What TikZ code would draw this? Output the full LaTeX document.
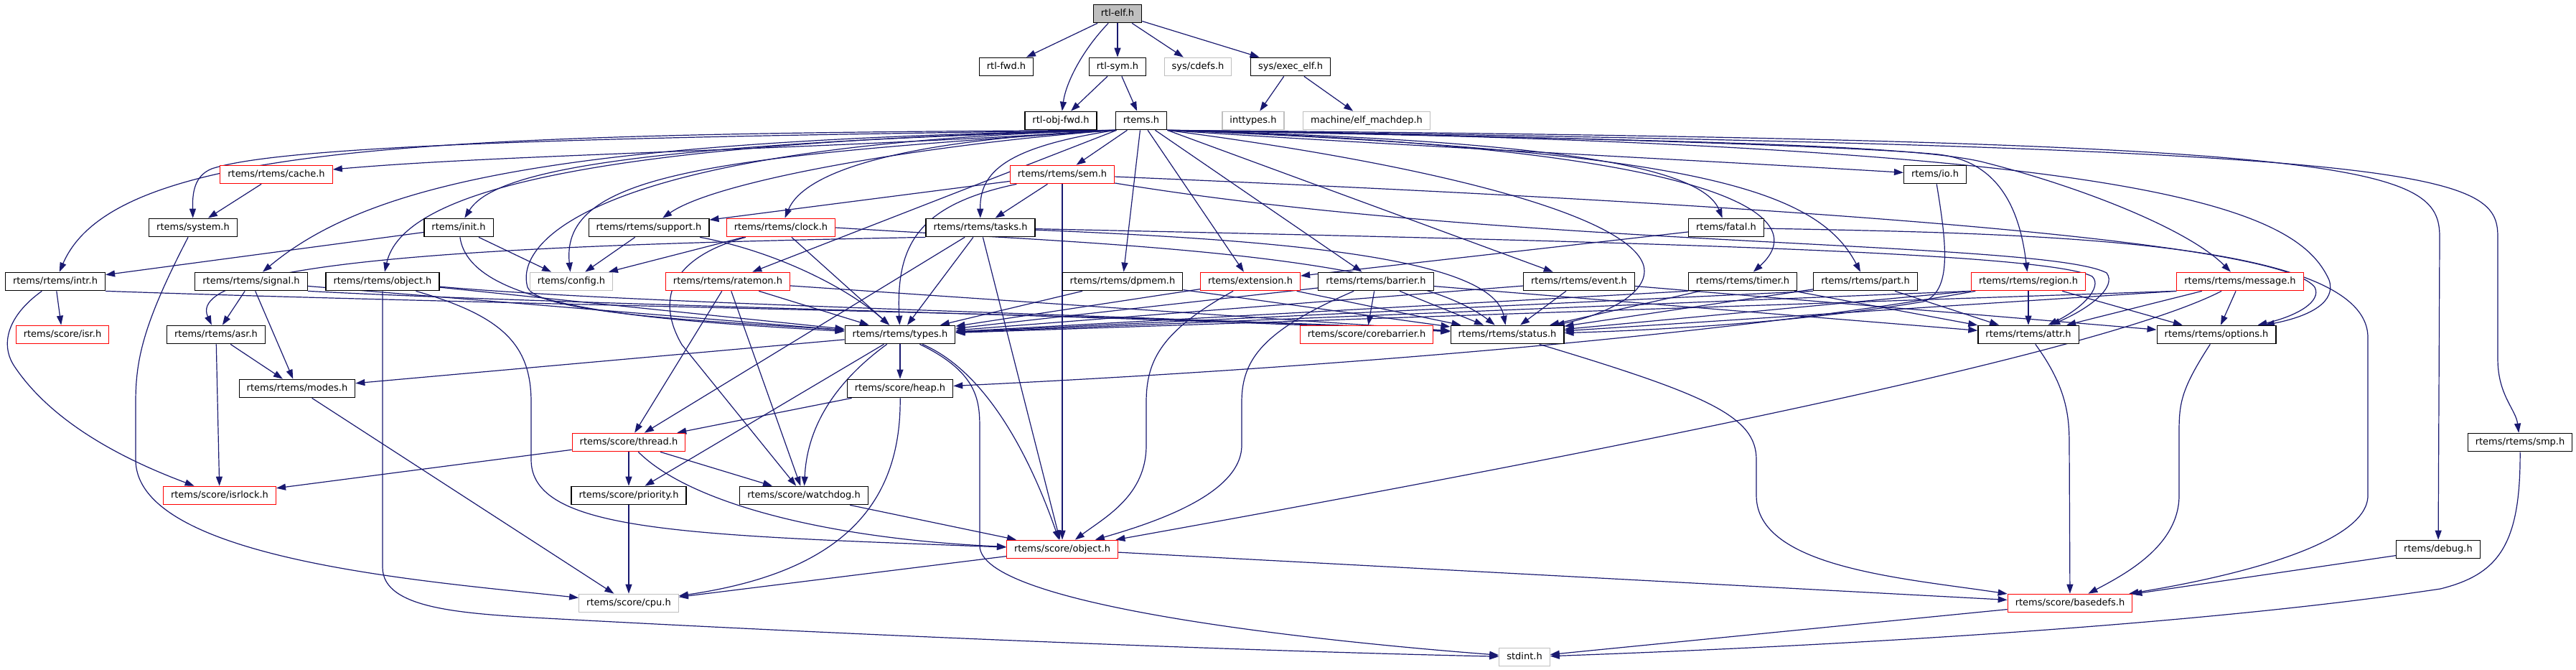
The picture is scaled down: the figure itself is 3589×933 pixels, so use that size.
\documentclass[tikz,border=0pt]{standalone}
\usepackage{fontspec}
\setmainfont{DejaVu Sans}
\usetikzlibrary{arrows.meta,backgrounds}
\definecolor{edgeblue}{HTML}{191970}
\definecolor{truncred}{HTML}{FF0000}
\definecolor{extgray}{HTML}{BFBFBF}
\tikzset{
  hdr/.style={draw=black,fill=white,line width=1.2pt,inner xsep=10.5pt,inner ysep=0pt,
    minimum height=25.5pt,text height=9.5pt,text depth=2.5pt,font=\fontsize{13}{15}\selectfont},
  trunc/.style={hdr,draw=truncred},
  ext/.style={hdr,draw=extgray},
  rootfile/.style={hdr,fill=extgray},
  dep/.style={draw=edgeblue,line width=1.2pt,-{Triangle[length=13pt,width=9pt]}},
}
\begin{document}
\begin{tikzpicture}[x=1pt,y=-1pt]
\useasboundingbox (0,0) rectangle (3589,933);
% files
\node[rootfile] (elf) at (1557,19) {rtl-elf.h};
\node[hdr] (fwd) at (1402,93) {rtl-fwd.h};
\node[hdr] (sym) at (1557,93) {rtl-sym.h};
\node[ext] (cdefs) at (1669,93) {sys/cdefs.h};
\node[hdr] (execelf) at (1798,93) {sys/exec\_elf.h};
\node[hdr] (objfwd) at (1478,168) {rtl-obj-fwd.h};
\node[hdr] (rtemsh) at (1590,168) {rtems.h};
\node[ext] (inttypes) at (1746,168) {inttypes.h};
\node[ext] (machdep) at (1904,168) {machine/elf\_machdep.h};
\node[trunc] (cache) at (385,243) {rtems/rtems/cache.h};
\node[trunc] (sem) at (1480,243) {rtems/rtems/sem.h};
\node[hdr] (io) at (2696,243) {rtems/io.h};
\node[hdr] (system) at (269,317) {rtems/system.h};
\node[hdr] (init) at (639,317) {rtems/init.h};
\node[hdr] (support) at (904,317) {rtems/rtems/support.h};
\node[trunc] (clock) at (1088,317) {rtems/rtems/clock.h};
\node[hdr] (tasks) at (1366,317) {rtems/rtems/tasks.h};
\node[hdr] (fatal) at (2405,317) {rtems/fatal.h};
\node[hdr] (intr) at (77,392) {rtems/rtems/intr.h};
\node[hdr] (signal) at (350,392) {rtems/rtems/signal.h};
\node[hdr] (robject) at (533,392) {rtems/rtems/object.h};
\node[ext] (config) at (796,392) {rtems/config.h};
\node[trunc] (ratemon) at (1014,392) {rtems/rtems/ratemon.h};
\node[hdr] (dpmem) at (1564,392) {rtems/rtems/dpmem.h};
\node[trunc] (extension) at (1742,392) {rtems/extension.h};
\node[hdr] (barrier) at (1917,392) {rtems/rtems/barrier.h};
\node[hdr] (event) at (2200,392) {rtems/rtems/event.h};
\node[hdr] (timer) at (2428,392) {rtems/rtems/timer.h};
\node[hdr] (part) at (2599,392) {rtems/rtems/part.h};
\node[trunc] (region) at (2826,392) {rtems/rtems/region.h};
\node[trunc] (message) at (3121,392) {rtems/rtems/message.h};
\node[trunc] (isr) at (87,466) {rtems/score/isr.h};
\node[hdr] (asr) at (301,466) {rtems/rtems/asr.h};
\node[hdr] (types) at (1254,466) {rtems/rtems/types.h};
\node[trunc] (corebarrier) at (1904,466) {rtems/score/corebarrier.h};
\node[hdr] (status) at (2100,466) {rtems/rtems/status.h};
\node[hdr] (attr) at (2826,466) {rtems/rtems/attr.h};
\node[hdr] (options) at (3088,466) {rtems/rtems/options.h};
\node[hdr] (modes) at (414,541) {rtems/rtems/modes.h};
\node[hdr] (heap) at (1254,541) {rtems/score/heap.h};
\node[trunc] (thread) at (876,616) {rtems/score/thread.h};
\node[hdr] (smp) at (3511,616) {rtems/rtems/smp.h};
\node[trunc] (isrlock) at (306,690) {rtems/score/isrlock.h};
\node[hdr] (priority) at (876,690) {rtems/score/priority.h};
\node[hdr] (watchdog) at (1120,690) {rtems/score/watchdog.h};
\node[trunc] (sobject) at (1480,765) {rtems/score/object.h};
\node[hdr] (debug) at (3397,765) {rtems/debug.h};
\node[ext] (cpu) at (876,840) {rtems/score/cpu.h};
\node[trunc] (basedefs) at (2884,840) {rtems/score/basedefs.h};
\node[ext] (stdint) at (2124,915) {stdint.h};
% includes
\begin{scope}[on background layer]
\foreach \a/\b in {elf/fwd,elf/sym,elf/cdefs,elf/execelf,sym/objfwd,sym/rtemsh,
  execelf/inttypes,execelf/machdep,rtemsh/sem,rtemsh/ratemon,rtemsh/dpmem,
  rtemsh/extension,rtemsh/barrier,rtemsh/event,cache/system,init/intr,init/config,
  support/config,clock/config,clock/types,sem/support,sem/tasks,sem/sobject,
  tasks/thread,tasks/types,tasks/sobject,intr/isr,signal/asr,signal/modes,
  signal/types,robject/types,ratemon/types,ratemon/thread,ratemon/watchdog,
  ratemon/status,dpmem/types,dpmem/status,extension/types,extension/status,
  barrier/types,barrier/status,barrier/corebarrier,barrier/attr,event/types,
  event/status,event/options,fatal/extension,timer/status,timer/attr,part/status,
  part/attr,region/attr,region/options,message/attr,message/options,asr/isrlock,
  asr/modes,types/heap,types/modes,types/priority,heap/thread,thread/priority,
  thread/watchdog,thread/isrlock,modes/cpu,priority/cpu,watchdog/sobject,
  sobject/cpu,sobject/basedefs,basedefs/stdint,debug/basedefs}
  \draw[dep] (\a) -- (\b);
\draw[dep] (timer.south west) -- (types);
\draw[dep] (part.south west) -- (types);
\draw[dep] (region.south west) -- (types);
\draw[dep] (region.south west) -- (status);
\draw[dep] (message.south west) -- (types);
\draw[dep] (message.south west) -- (status);
\draw[dep] (elf) .. controls (1508,70) and (1485,115) .. (objfwd);
% rtems.h to the left
\draw[dep] (rtemsh.south west) .. controls (1100,210) and (700,215) .. (cache);
\draw[dep] (rtemsh.south west) .. controls (900,190) and (400,200) .. (295,235)
  .. controls (270,245) and (268,270) .. (system);
\draw[dep] (rtemsh.south west) .. controls (600,186) and (160,200) .. (intr);
\draw[dep] (rtemsh.south west) .. controls (900,200) and (690,235) .. (init);
\draw[dep] (rtemsh.south west) .. controls (800,195) and (520,250) .. (signal);
\draw[dep] (rtemsh.south west) .. controls (800,198) and (560,270) .. (robject);
\draw[dep] (rtemsh.south west) .. controls (1000,218) and (780,240) .. (config);
\draw[dep] (rtemsh.south west) .. controls (850,200) and (715,330) .. (735,400)
  .. controls (750,440) and (1050,450) .. (types);
\draw[dep] (rtemsh.south west) .. controls (1300,200) and (1000,250) .. (support);
\draw[dep] (rtemsh.south west) .. controls (1250,195) and (1120,240) .. (clock);
\draw[dep] (rtemsh.south west) .. controls (1400,205) and (1365,240) .. (tasks);
% rtems.h to the right
\draw[dep] (rtemsh.south east) .. controls (2000,230) and (2270,300) .. (2290,370)
  .. controls (2300,410) and (2230,440) .. (status);
\draw[dep] (rtemsh.south east) .. controls (2150,195) and (2370,230) .. (fatal);
\draw[dep] (rtemsh.south east) .. controls (2400,205) and (2530,300) .. (timer);
\draw[dep] (rtemsh.south east) .. controls (2350,210) and (2530,260) .. (part);
\draw[dep] (rtemsh.south east) .. controls (1900,200) and (2400,225) .. (io);
\draw[dep] (rtemsh.south east) .. controls (2200,190) and (2600,205) .. (2700,215)
  .. controls (2790,225) and (2815,300) .. (region);
\draw[dep] (rtemsh.south east) .. controls (2300,195) and (2650,200) .. (2760,225)
  .. controls (2900,260) and (3050,320) .. (message);
\draw[dep] (rtemsh.south east) .. controls (3000,200) and (3200,290) .. (3245,390)
  .. controls (3255,420) and (3220,440) .. (options);
\draw[dep] (rtemsh.south east) .. controls (3300,195) and (3399,230) .. (3399,330) -- (debug);
\draw[dep] (rtemsh.south east) .. controls (3400,205) and (3480,240) .. (3480,330)
  -- (3480,500) .. controls (3480,550) and (3505,570) .. (smp);
% middle rows
\draw[dep] (sem) .. controls (1280,285) and (1248,340) .. (types);
\draw[dep] (sem) .. controls (2100,345) and (2850,335) .. (2935,380)
  .. controls (2950,400) and (2910,430) .. (attr);
\draw[dep] (sem) .. controls (2600,290) and (3180,340) .. (3225,400)
  .. controls (3235,420) and (3200,440) .. (options);
\draw[dep] (tasks.south west) .. controls (800,340) and (250,355) .. (asr);
\draw[dep] (tasks) .. controls (1800,335) and (2080,360) .. (status);
\draw[dep] (tasks) .. controls (2200,335) and (2850,350) .. (2915,385)
  .. controls (2930,400) and (2900,430) .. (attr);
\draw[dep] (clock) .. controls (930,360) and (915,420) .. (950,480) -- (watchdog);
\draw[dep] (clock.east) .. controls (1500,338) and (1950,350) .. (status);
\draw[dep] (support) .. controls (1080,350) and (1180,400) .. (types);
\draw[dep] (init) .. controls (655,430) and (900,445) .. (types);
\draw[dep] (intr.south east) .. controls (700,425) and (1700,440) .. (status);
\draw[dep] (signal.south east) .. controls (800,425) and (1600,440) .. (status);
\draw[dep] (robject) .. controls (900,425) and (1650,440) .. (status);
\draw[dep] (io) .. controls (2712,340) and (2720,405) .. (2680,420)
  .. controls (2500,450) and (2300,460) .. (status);
\draw[dep] (fatal) .. controls (2800,325) and (3299,330) .. (3299,470) -- (3299,690)
  .. controls (3299,760) and (3100,805) .. (basedefs);
\draw[dep] (region) .. controls (2450,460) and (1900,510) .. (heap);
\draw[dep] (message) .. controls (2950,480) and (2400,600) .. (sobject);
% lower rows
\draw[dep] (intr) .. controls (10,440) and (0,480) .. (20,510)
  .. controls (80,600) and (200,650) .. (isrlock);
\draw[dep] (system) .. controls (200,450) and (189,500) .. (189,560) -- (189,640)
  .. controls (189,780) and (600,810) .. (cpu);
\draw[dep] (robject.south) -- (533,790) .. controls (533,850) and (650,855) .. (780,862)
  .. controls (1300,890) and (1800,908) .. (stdint);
\draw[dep] (robject) .. controls (700,440) and (740,480) .. (740,560) -- (740,640)
  .. controls (740,740) and (950,745) .. (sobject);
\draw[dep] (types) .. controls (1180,520) and (1125,580) .. (watchdog);
\draw[dep] (types) .. controls (1380,520) and (1440,650) .. (sobject);
\draw[dep] (types) .. controls (1365,520) and (1365,560) .. (1365,600) -- (1365,760)
  .. controls (1365,840) and (1800,890) .. (stdint);
\draw[dep] (heap) .. controls (1256,720) and (1150,800) .. (cpu);
\draw[dep] (thread) .. controls (960,700) and (1150,750) .. (sobject);
\draw[dep] (extension) .. controls (1620,460) and (1597,500) .. (1597,560) -- (1597,620)
  .. controls (1597,690) and (1540,720) .. (sobject);
\draw[dep] (barrier) .. controls (1760,460) and (1730,500) .. (1730,560) -- (1730,620)
  .. controls (1730,690) and (1600,730) .. (sobject);
\draw[dep] (status) .. controls (2380,550) and (2447,580) .. (2447,640) -- (2447,690)
  .. controls (2447,790) and (2650,805) .. (basedefs);
\draw[dep] (attr) .. controls (2880,540) and (2883,580) .. (2883,620) -- (basedefs);
\draw[dep] (options) .. controls (3040,540) and (3036,560) .. (3036,600) -- (3036,690)
  .. controls (3036,760) and (2960,800) .. (basedefs);
\draw[dep] (smp) .. controls (3512,760) and (3480,800) .. (3400,820)
  .. controls (3000,880) and (2400,905) .. (stdint);
\end{scope}
\end{tikzpicture}
\end{document}
